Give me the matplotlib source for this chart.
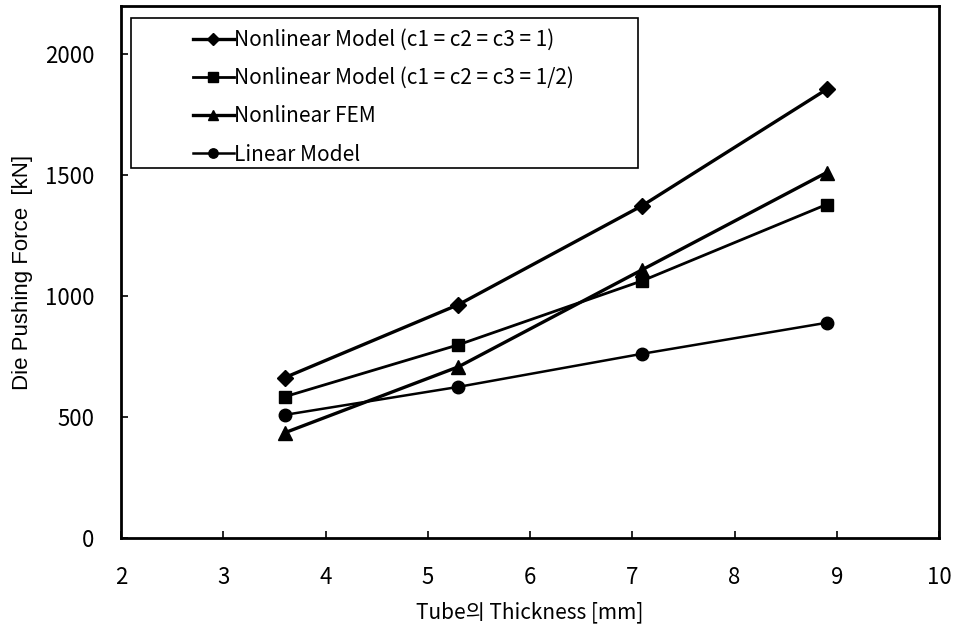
import matplotlib
matplotlib.use('Agg')
import matplotlib.pyplot as plt
from matplotlib.patches import Rectangle

plt.rcParams['font.family'] = ['Noto Sans CJK KR', 'DejaVu Sans']

thickness = [3.6, 5.3, 7.1, 8.9]
nl_c1 = [663, 965, 1375, 1855]
nl_half = [584, 799, 1064, 1379]
nl_fem = [435, 708, 1110, 1511]
linear = [509, 625, 762, 890]

labels = ['Nonlinear Model (c1 = c2 = c3 = 1)',
          'Nonlinear Model (c1 = c2 = c3 = 1/2)',
          'Nonlinear FEM',
          'Linear Model']

W, H = 956, 636
fig = plt.figure(figsize=(W/100, H/100), dpi=100)
ax = fig.add_axes([121/W, 1-538/H, (939-121)/W, (538-6)/H])

ax.plot(thickness, nl_c1, color='black', lw=2.4, marker='D', ms=8, label=labels[0])
ax.plot(thickness, nl_half, color='black', lw=2.0, marker='s', ms=9, label=labels[1])
ax.plot(thickness, nl_fem, color='black', lw=2.4, marker='^', ms=10, label=labels[2])
ax.plot(thickness, linear, color='black', lw=1.8, marker='o', ms=9, label=labels[3])

ax.set_xlim(2, 10)
ax.set_ylim(0, 2200)
ax.set_xticks(range(2, 11))
ax.set_yticks([0, 500, 1000, 1500, 2000])
ax.tick_params(direction='in', length=5, width=1.2, labelsize=16, top=False, right=False)
ax.tick_params(axis='x', pad=20)
ax.tick_params(axis='y', pad=19)
for s in ax.spines.values():
    s.set_linewidth(2)

ax.set_xlabel('Tube의 Thickness [mm]', fontsize=15, labelpad=9)
ax.set_ylabel('Die Pushing Force  [kN]', fontsize=16, family='Liberation Sans')
ax.yaxis.set_label_coords(-88/818, 0.5)

# legend frame drawn separately (text sits far from the left edge in the original)
fig.add_artist(Rectangle((131/W, 1-168/H), (638-131)/W, 150/H, transform=fig.transFigure,
                         facecolor='white', edgecolor='black', lw=1.2, zorder=3))
leg = fig.legend(loc='upper left', bbox_to_anchor=(193/W, 1-29/H), fontsize=15,
                 handlelength=1.95, handletextpad=0.0, labelspacing=0.78,
                 frameon=False, borderpad=0, borderaxespad=0, markerscale=0.75)
leg.set_zorder(4)

fig.savefig('out.png', dpi=100)
